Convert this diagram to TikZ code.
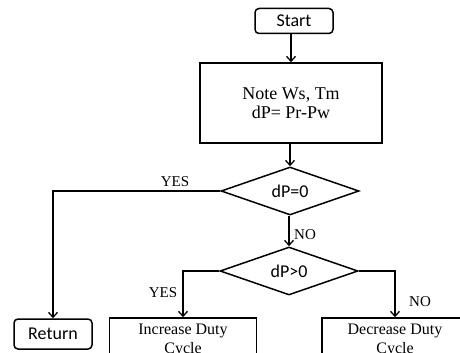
\documentclass[tikz,border=0pt]{standalone}
\usepackage{fontspec}
\setmainfont{Liberation Serif}
\newfontfamily\calib{Carlito}
\usetikzlibrary{shapes.geometric,arrows.meta}
\begin{document}
\begin{tikzpicture}[x=1pt,y=-1pt,
  line width=1.5pt,
  arr/.style={-{Straight Barb[length=5pt,width=9pt,line width=1.3pt]}},
  term/.style={draw,rounded corners=4pt,minimum width=78pt,minimum height=25pt,inner sep=0pt,font=\calib\fontsize{18}{20}\selectfont},
  proc/.style={draw,inner sep=0pt,align=center,font=\fontsize{18}{19}\selectfont},
  boxb/.style={draw,inner sep=0pt,align=center,font=\fontsize{16}{19}\selectfont},
  dec/.style={draw,diamond,aspect=2.9,inner sep=0pt,minimum width=138pt,minimum height=48pt,font=\calib\fontsize{18}{20}\selectfont},
  lab/.style={font=\fontsize{15}{16}\selectfont,inner sep=0pt}]
\clip (0,0) rectangle (460,353);
\useasboundingbox (0,0) rectangle (460,353);
\node[term] (start) at (294,21) {Start};
\node[proc,minimum width=182pt,minimum height=80pt] (note) at (291,103) {Note Ws, Tm\\dP= Pr-Pw};
\node[dec] (d1) at (290,191) {dP=0};
\node[dec] (d2) at (289,271) {dP>0};
\node[term,minimum height=30pt] (ret) at (53,334) {Return};
\node[boxb,minimum width=147pt,minimum height=44pt] (inc) at (183,340) {Increase Duty\\Cycle};
\node[boxb,minimum width=146pt,minimum height=44pt] (decr) at (395,340) {Decrease Duty\\Cycle};
\draw[arr] (start.south -| note.north) -- (note.north);
\draw[arr] (note.south -| d1.north) -- (d1.north);
\draw[arr] (d1.west) -| (ret.north);
\draw[arr] (d1.south -| d2.north) -- (d2.north);
\draw[arr] (d2.west) -| (inc.north);
\draw[arr] (d2.east) -| (decr.north);
\node[lab] (yes1) at (175,182) {YES};
\node[lab] (no1) at (305,235) {NO};
\node[lab] (yes2) at (163,293) {YES};
\node[lab] (no2) at (420,302) {NO};
\end{tikzpicture}
\end{document}
